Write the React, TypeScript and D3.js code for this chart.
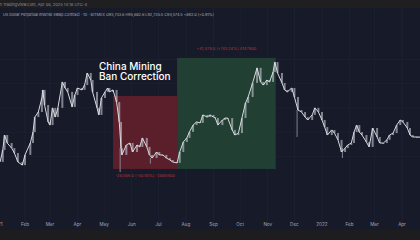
import React from "react";
import * as d3 from "d3";

const dates = [
  "2021-01-04","2021-01-07","2021-01-09","2021-01-12","2021-01-17","2021-01-20","2021-01-24","2021-01-29",
  "2021-02-01","2021-02-07","2021-02-10","2021-02-12","2021-02-16","2021-02-20","2021-02-21","2021-02-23","2021-02-27",
  "2021-03-01","2021-03-04","2021-03-07","2021-03-10","2021-03-15","2021-03-18","2021-03-21","2021-03-26","2021-03-29",
  "2021-04-01","2021-04-06","2021-04-09","2021-04-12","2021-04-16","2021-04-18","2021-04-23","2021-04-25","2021-04-28",
  "2021-05-02","2021-05-05","2021-05-07","2021-05-11","2021-05-15","2021-05-18","2021-05-20","2021-05-21","2021-05-26","2021-05-30",
  "2021-06-02","2021-06-07","2021-06-10","2021-06-13","2021-06-18","2021-06-21","2021-06-24","2021-06-29",
  "2021-07-02","2021-07-06","2021-07-10","2021-07-14","2021-07-17","2021-07-22","2021-07-25","2021-07-29",
  "2021-08-02","2021-08-05","2021-08-09","2021-08-13","2021-08-17","2021-08-20","2021-08-25","2021-08-28",
  "2021-09-01","2021-09-03","2021-09-06","2021-09-11","2021-09-14","2021-09-17","2021-09-22","2021-09-25","2021-09-29",
  "2021-10-03","2021-10-07","2021-10-10","2021-10-15","2021-10-20","2021-10-24","2021-10-27","2021-10-31",
  "2021-11-03","2021-11-07","2021-11-09","2021-11-12","2021-11-17","2021-11-20","2021-11-23","2021-11-28",
  "2021-12-01","2021-12-05","2021-12-09","2021-12-13","2021-12-16","2021-12-21","2021-12-24","2021-12-28",
  "2022-01-01","2022-01-04","2022-01-07","2022-01-12","2022-01-15","2022-01-19","2022-01-23","2022-01-27","2022-01-30",
  "2022-02-03","2022-02-06","2022-02-09","2022-02-12","2022-02-15","2022-02-20","2022-02-23","2022-02-27",
  "2022-03-04","2022-03-07","2022-03-11","2022-03-15","2022-03-18","2022-03-22","2022-03-26","2022-03-30",
  "2022-04-02","2022-04-07","2022-04-10","2022-04-13","2022-04-18","2022-04-21"
];

// closing prices, thousands USD
const closes = [
  27.7,32.6,38.8,35.5,33.4,31.4,27.7,26.4,
  30.6,35.5,40.0,46.2,48.3,54.1,57.4,51.2,44.2,
  42.9,50.0,46.2,50.0,60.7,58.2,56.6,50.4,55.3,
  58.2,57.4,59.4,64.4,61.5,56.6,50.0,47.1,54.1,
  56.6,58.2,56.6,57.4,52.4,44.2,33.4,30.6,34.7,35.5,
  31.8,34.7,33.9,37.6,33.9,30.6,29.3,31.8,
  30.6,30.6,29.3,28.5,27.7,27.3,31.8,35.9,
  37.6,40.1,42.9,44.2,43.8,47.1,46.2,47.1,
  46.2,45.8,42.9,45.0,45.8,45.8,40.9,38.8,39.6,
  45.8,52.0,54.5,60.3,66.5,60.7,59.4,61.5,
  60.7,64.8,68.9,64.4,60.3,57.4,56.6,58.2,
  54.5,49.1,48.3,46.2,45.0,47.1,50.0,48.3,
  45.0,42.1,38.8,40.9,39.6,36.8,31.8,33.4,34.7,
  35.5,40.0,42.9,40.0,38.8,35.9,33.9,41.7,
  38.0,35.5,35.5,36.8,38.8,39.6,42.9,45.0,
  44.2,41.7,38.8,38.0,38.0,38.0
];

const wickDates = ["2021-05-19", "2021-12-04", "2022-01-24", "2021-06-22"];
const wickLows = [23.5, 38.0, 29.3, 27.0];

const monthTicks = [
  "2021-01-01","2021-02-01","2021-03-01","2021-04-01","2021-05-01","2021-06-01","2021-07-01","2021-08-01",
  "2021-09-01","2021-10-01","2021-11-01","2021-12-01","2022-01-01","2022-02-01","2022-03-01","2022-04-01"
];
const monthLabels = ["2021","Feb","Mar","Apr","May","Jun","Jul","Aug","Sep","Oct","Nov","Dec","2022","Feb","Mar","Apr"];

const redRange = { start: "2021-05-11", end: "2021-07-22", top: 54.9, bottom: 24.8 };
const greenRange = { start: "2021-07-22", end: "2021-11-10", top: 70.6, bottom: 24.8 };
const redLabel = "-28,856.0 (-50.95%) -2885600";
const greenLabel = "+41,479.0 (+143.24%) 4147900";
const annotation = ["China Mining", "Ban Correction"];
const headerText = "on TradingView.com, Apr 08, 2025 14:18 UTC-4";
const legendText = "US Dollar Perpetual Inverse Swap Contract · 1D · BITMEX  O95,733.6  H95,682.6  L92,735.5  C94,574.5  +892.0 (+0.91%)";

const W = 420, H = 240;
const parse = d3.utcParse("%Y-%m-%d");

export default function App() {
  const x = d3.scaleUtc()
    .domain([parse("2021-02-01")!, parse("2022-04-01")!])
    .range([25, 402]);
  const y = d3.scaleLinear().domain([-4.5, 94.5]).range([240, 0]);

  const pts = dates.map((d, i) => ({ d: parse(d)!, c: closes[i] }));
  const line = d3.line<{ d: Date; c: number }>()
    .x(p => x(p.d))
    .y(p => y(p.c));

  const hGrid = [30, 40, 50, 60, 70];

  return (
    <svg width={W} height={H} style={{ position: "absolute", left: 0, top: 0, display: "block" }}
      fontFamily="Inter, Roboto, 'Noto Sans', sans-serif">
      <rect x={0} y={0} width={W} height={H} fill="#161a29" />
      {/* grid */}
      {monthTicks.map((t, i) => (
        <line key={"vg" + i} x1={x(parse(t)!)} x2={x(parse(t)!)} y1={8} y2={229} stroke="#1c2132" strokeWidth={1} />
      ))}
      {hGrid.map((v, i) => (
        <line key={"hg" + i} x1={0} x2={W} y1={y(v)} y2={y(v)} stroke="#1c2132" strokeWidth={1} />
      ))}
      {/* range boxes */}
      <rect x={x(parse(redRange.start)!)} y={y(redRange.top)}
        width={x(parse(redRange.end)!) - x(parse(redRange.start)!)}
        height={y(redRange.bottom) - y(redRange.top)} fill="#5a1f2b" />
      <rect x={x(parse(greenRange.start)!)} y={y(greenRange.top)}
        width={x(parse(greenRange.end)!) - x(parse(greenRange.start)!)}
        height={y(greenRange.bottom) - y(greenRange.top)} fill="#213f33" />
      <text x={(x(parse(redRange.start)!) + x(parse(redRange.end)!)) / 2} y={y(redRange.bottom) + 8.5}
        textAnchor="middle" fontSize={4} fill="#b8343f">{redLabel}</text>
      <text x={(x(parse(greenRange.start)!) + x(parse(greenRange.end)!)) / 2} y={y(greenRange.top) - 8}
        textAnchor="middle" fontSize={4} fill="#b8343f">{greenLabel}</text>
      {/* wicks */}
      {wickDates.map((d, i) => {
        const dt = parse(d)!;
        const idx = d3.bisector((p: { d: Date }) => p.d).left(pts, dt);
        const c = pts[Math.min(idx, pts.length - 1)].c;
        return <line key={"w" + i} x1={x(dt)} x2={x(dt)} y1={y(c)} y2={y(wickLows[i])} stroke="#9a9ca6" strokeWidth={0.8} />;
      })}
      {/* candle bodies between consecutive closes */}
      {pts.slice(1).map((p, i) => {
        const prev = pts[i];
        const y0 = Math.min(y(prev.c), y(p.c));
        const y1 = Math.max(y(prev.c), y(p.c));
        return <rect key={"c" + i} x={x(p.d) - 1} y={y0} width={2} height={Math.max(1, y1 - y0)} fill="#c9ccd4" opacity={0.6} />;
      })}
      <path d={line(pts) || ""} fill="none" stroke="#d8dae0" strokeWidth={1} strokeLinejoin="round" />
      {/* annotation */}
      {annotation.map((t, i) => (
        <text key={"a" + i} x={99} y={69.5 + i * 10.5} fontSize={10} fontWeight={500} fill="#ffffff">{t}</text>
      ))}
      {/* header bar */}
      <rect x={0} y={0} width={W} height={8} fill="#1f1f22" />
      <text x={-3} y={5.8} fontSize={4} fill="#8d8f96">{headerText}</text>
      <text x={3} y={15.5} fontSize={3.8} fill="#a9abb3">{legendText}</text>
      {/* time axis */}
      {monthTicks.map((t, i) => (
        <text key={"t" + i} x={x(parse(t)!)} y={226} textAnchor="middle" fontSize={4.6} fill="#a3a6af">{monthLabels[i]}</text>
      ))}
      <rect x={0} y={230} width={W} height={10} fill="#1d1c1e" />
    </svg>
  );
}
